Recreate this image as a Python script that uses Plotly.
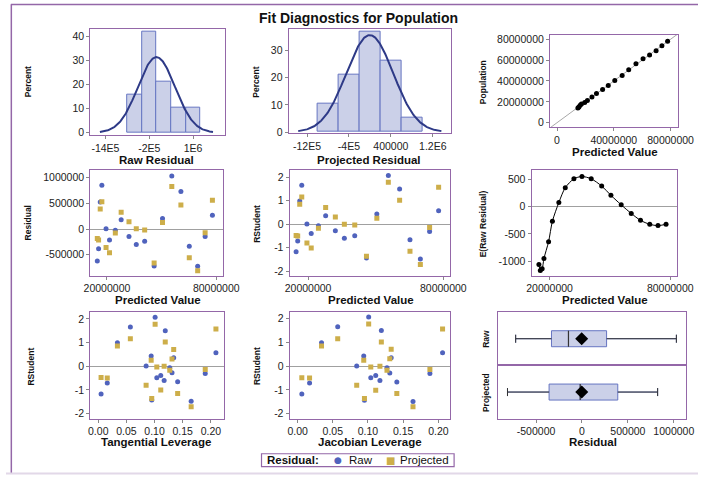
import numpy as np
import plotly.graph_objects as go

# ---------------- data ----------------
predicted = [14.7e6, 15.4e6, 16.3e6, 17.2e6, 19.5e6, 21.4e6, 24.6e6, 27.8e6, 32.1e6, 36.1e6,
             40.7e6, 45.9e6, 50.5e6, 55.6e6, 60.6e6, 65.2e6, 69.8e6, 73.9e6, 77.9e6]
raw_residual = [-619e3, -383e3, 524e3, 849e3, 5e3, -211e3, -26e3, 179e3, -147e3, -300e3,
                -236e3, -715e3, 204e3, 1028e3, 728e3, -332e3, -722e3, -147e3, 268e3]
projected_residual = [-185e3, -211e3, 390e3, 530e3, -358e3, -460e3, -77e3, 326e3, 140e3, 6e3,
                      -19e3, -658e3, 128e3, 824e3, 466e3, -556e3, -811e3, -70e3, 556e3]
rstudent_raw = [-1.17, -0.71, 0.99, 1.66, 0.01, -0.39, -0.06, 0.36, -0.28, -0.60,
                -0.49, -1.43, 0.43, 2.07, 1.50, -0.66, -1.48, -0.31, 0.57]
rstudent_projected = [-0.48, -0.50, 0.85, 1.16, -0.80, -1.01, -0.17, 0.71, 0.31, 0.00,
                      -0.03, -1.36, 0.25, 1.78, 1.02, -1.15, -1.71, -0.14, 1.57]
tangential_leverage = [0.005, 0.016, 0.034, 0.057, 0.085, 0.111, 0.127, 0.134, 0.131, 0.117,
                       0.104, 0.095, 0.094, 0.101, 0.119, 0.141, 0.165, 0.190, 0.209]
jacobian_leverage = [0.006, 0.017, 0.034, 0.057, 0.084, 0.111, 0.127, 0.133, 0.131, 0.117,
                     0.104, 0.095, 0.094, 0.101, 0.119, 0.141, 0.164, 0.188, 0.206]
expected_raw_residual = [-1056, -1164, -1134, -948, -642, -270, 72, 342, 504, 546,
                         504, 372, 204, 30, -126, -252, -324, -348, -324]
population = list(np.array(predicted) + np.array(raw_residual))

# histogram binning
raw_bin_start, raw_bin_end, bin_size = -800000, 1200000, 400000
proj_bin_start, proj_bin_end = -1000000, 1000000

# tick labels
raw_hist_tickvals = [-1.4e6, -2e5, 1e6]
raw_hist_ticktext = ["-14E5", "-2E5", "1E6"]
proj_hist_tickvals = [-1.2e6, -4e5, 4e5, 1.2e6]
proj_hist_ticktext = ["-12E5", "-4E5", "400000", "1.2E6"]
percent_ticks1 = [0, 10, 20, 30, 40]
percent_ticks2 = [0, 10, 20, 30]
pop_ticks = [0, 20000000, 40000000, 60000000, 80000000]
pred_ticks3 = [0, 40000000, 80000000]
pred_ticks = [20000000, 80000000]
resid_ticks = [-500000, 0, 500000, 1000000]
rstud_ticks = [-2, -1, 0, 1, 2]
exp_ticks = [-1000, -500, 0, 500]
lev_ticks = [0.00, 0.05, 0.10, 0.15, 0.20]
box_ticks = [-500000, 0, 500000, 1000000]
legend_title = "Residual:"
series_names = ["Raw", "Projected"]

# ---------------- style ----------------
W, H = 715, 479
FONT = "Liberation Sans, Arial, sans-serif"
PURPLE = "#9467A8"
BLUE = "#5063BD"
GOLD = "#CDAE4A"
HFILL = "#CBD0E8"
HLINE = "#6675C2"
CURVE = "#2E3A87"
TICKSIZE = 10.5
XTITLE = 11.5
YTITLE = 8.5


def px_x(x):
    return x / W


def px_y(y):
    return 1 - y / H


def dom_x(a, b):
    return [a / W, b / W]


def dom_y(top, bottom):
    return [1 - bottom / H, 1 - top / H]


def lab(vals, fmt=None):
    if fmt is None:
        return [str(int(v)) for v in vals]
    return [fmt.format(v) for v in vals]


def axis(domain, rng, anchor, tickvals=None, ticktext=None, **kw):
    d = dict(domain=domain, range=rng, anchor=anchor, showline=True, mirror=True,
             linecolor=PURPLE, linewidth=1, ticks="outside", ticklen=3, tickcolor="#888",
             tickfont=dict(size=TICKSIZE, family=FONT, color="#222"), showgrid=False,
             zeroline=False, fixedrange=True)
    if tickvals is not None:
        d["tickmode"] = "array"
        d["tickvals"] = tickvals
        d["ticktext"] = ticktext if ticktext is not None else lab(tickvals)
    d.update(kw)
    return d


fig = go.Figure()


def normal_curve(data, width):
    a = np.array(data, dtype=float)
    m, s = a.mean(), a.std(ddof=1)
    xs = np.linspace(m - 3.05 * s, m + 3.05 * s, 200)
    ys = 100 * width * np.exp(-0.5 * ((xs - m) / s) ** 2) / (s * np.sqrt(2 * np.pi))
    return xs, ys


# Panel 1: raw residual histogram
fig.add_trace(go.Histogram(x=raw_residual, histnorm="percent",
                           xbins=dict(start=raw_bin_start, end=raw_bin_end, size=bin_size),
                           marker=dict(color=HFILL, line=dict(color=HLINE, width=1)),
                           xaxis="x", yaxis="y"))
cx, cy = normal_curve(raw_residual, bin_size)
fig.add_trace(go.Scatter(x=cx, y=cy, mode="lines", line=dict(color=CURVE, width=2),
                         xaxis="x", yaxis="y"))

# Panel 2: projected residual histogram
fig.add_trace(go.Histogram(x=projected_residual, histnorm="percent",
                           xbins=dict(start=proj_bin_start, end=proj_bin_end, size=bin_size),
                           marker=dict(color=HFILL, line=dict(color=HLINE, width=1)),
                           xaxis="x2", yaxis="y2"))
cx, cy = normal_curve(projected_residual, bin_size)
fig.add_trace(go.Scatter(x=cx, y=cy, mode="lines", line=dict(color=CURVE, width=2),
                         xaxis="x2", yaxis="y2"))

# Panel 3: population vs predicted
p3x = [-5.0e6, 85.0e6]
p3y = [-4.5e6, 84.5e6]
diag = [min(p3x[0], p3y[0]), max(p3x[1], p3y[1])]
fig.add_trace(go.Scatter(x=diag, y=diag, mode="lines", line=dict(color="#A8A8A8", width=1),
                         xaxis="x3", yaxis="y3"))
fig.add_trace(go.Scatter(x=predicted, y=population, mode="markers",
                         marker=dict(color="black", size=5), xaxis="x3", yaxis="y3"))


def pair(xvals, yraw, yproj, xa, ya):
    fig.add_trace(go.Scatter(x=xvals, y=yraw, mode="markers", name=series_names[0],
                             marker=dict(color=BLUE, size=5, symbol="circle"),
                             xaxis=xa, yaxis=ya))
    fig.add_trace(go.Scatter(x=xvals, y=yproj, mode="markers", name=series_names[1],
                             marker=dict(color=GOLD, size=5, symbol="square"),
                             xaxis=xa, yaxis=ya))


pair(predicted, raw_residual, projected_residual, "x4", "y4")
pair(predicted, rstudent_raw, rstudent_projected, "x5", "y5")
pair(tangential_leverage, rstudent_raw, rstudent_projected, "x7", "y7")
pair(jacobian_leverage, rstudent_raw, rstudent_projected, "x8", "y8")

# Panel 6: E(raw residual)
fig.add_trace(go.Scatter(x=predicted, y=expected_raw_residual, mode="lines+markers",
                         line=dict(color="black", width=1, shape="spline", smoothing=0.8),
                         marker=dict(color="black", size=5), xaxis="x6", yaxis="y6"))


# Panel 9: box plots
def box(data, xa, ya):
    a = np.array(data, dtype=float)
    q1, med, q3 = np.percentile(a, [25, 50, 75], method="weibull")
    iqr = q3 - q1
    lo = a[a >= q1 - 1.5 * iqr].min()
    hi = a[a <= q3 + 1.5 * iqr].max()
    fig.add_trace(go.Box(x=data, y0=0, orientation="h", width=0.3, whiskerwidth=0.5,
                         quartilemethod="exclusive", boxpoints=False,
                         fillcolor=HFILL, line=dict(color=HLINE, width=1),
                         xaxis=xa, yaxis=ya, hoverinfo="skip"))
    fig.add_trace(go.Scatter(x=[lo, q1, None, q3, hi, None, lo, lo, None, hi, hi],
                             y=[0, 0, None, 0, 0, None, -0.075, 0.075, None, -0.075, 0.075],
                             mode="lines", line=dict(color="#333", width=1),
                             xaxis=xa, yaxis=ya, hoverinfo="skip"))
    fig.add_trace(go.Scatter(x=[med, med], y=[-0.15, 0.15], mode="lines",
                             line=dict(color="#333", width=1.2),
                             xaxis=xa, yaxis=ya, hoverinfo="skip"))
    fig.add_trace(go.Scatter(x=[a.mean()], y=[0], mode="markers",
                             marker=dict(symbol="diamond", color="black", size=10),
                             xaxis=xa, yaxis=ya, hoverinfo="skip"))


box(raw_residual, "x9", "y9")
box(projected_residual, "x10", "y10")

# ---------------- layout ----------------
lay = dict(
    width=W, height=H, margin=dict(l=0, r=0, t=0, b=0, pad=0),
    paper_bgcolor="white", plot_bgcolor="white", bargap=0,
    font=dict(family=FONT, size=10, color="#222"),
    showlegend=False,
)
zl = dict(zeroline=True, zerolinecolor="#A0A0A0", zerolinewidth=1)
lay["xaxis"] = axis(dom_x(87, 226), [-1.816e6, 1.866e6], "y", raw_hist_tickvals, raw_hist_ticktext)
lay["yaxis"] = axis(dom_y(27, 135), [-1.1, 43.3], "x", percent_ticks1)
lay["xaxis2"] = axis(dom_x(292, 460), [-1.551e6, 1.551e6], "y2", proj_hist_tickvals, proj_hist_ticktext)
lay["yaxis2"] = axis(dom_y(27, 133), [-0.47, 38.0], "x2", percent_ticks2)
lay["xaxis3"] = axis(dom_x(562, 694), p3x, "y3", pred_ticks3)
lay["yaxis3"] = axis(dom_y(33, 127), p3y, "x3", pop_ticks)
lay["xaxis4"] = axis(dom_x(87, 224), [10.8e6, 83.6e6], "y4", pred_ticks)
lay["yaxis4"] = axis(dom_y(170, 277), [-902e3, 1147e3], "x4", resid_ticks, **zl)
lay["xaxis5"] = axis(dom_x(293, 459), [11.8e6, 83.05e6], "y5", pred_ticks)
lay["yaxis5"] = axis(dom_y(170, 277), [-2.18, 2.31], "x5", rstud_ticks, **zl)
lay["xaxis6"] = axis(dom_x(543, 693), [11.03e6, 83.2e6], "y6", pred_ticks)
lay["yaxis6"] = axis(dom_y(170, 277), [-1257, 667], "x6", exp_ticks, **zl)
lay["xaxis7"] = axis(dom_x(87, 225), [-0.0143, 0.2229], "y7", lev_ticks, lab(lev_ticks, "{:.2f}"))
lay["yaxis7"] = axis(dom_y(314, 422), [-2.22, 2.29], "x7", rstud_ticks, **zl)
lay["xaxis8"] = axis(dom_x(293, 459), [-0.0114, 0.2169], "y8", lev_ticks, lab(lev_ticks, "{:.2f}"))
lay["yaxis8"] = axis(dom_y(314, 422), [-2.21, 2.28], "x8", rstud_ticks, **zl)
lay["xaxis9"] = axis(dom_x(508, 703), [-918e3, 1137e3], "y9", box_ticks,
                     showticklabels=False, ticks="")
lay["yaxis9"] = axis(dom_y(314, 368), [-0.5, 0.5], "x9", None, None,
                     showticklabels=False, ticks="")
lay["xaxis10"] = axis(dom_x(508, 703), [-918e3, 1137e3], "y10", box_ticks)
lay["yaxis10"] = axis(dom_y(368, 422), [-0.5, 0.5], "x10", None, None,
                      showticklabels=False, ticks="")

ann = []


def text(t, x, y, size=XTITLE, angle=0, bold=True, color="#111", family=FONT):
    ann.append(dict(text=("<b>%s</b>" % t) if bold else t, x=px_x(x), y=px_y(y),
                    xref="paper", yref="paper", xanchor="center", yanchor="middle",
                    showarrow=False, textangle=angle,
                    font=dict(size=size, family=family, color=color)))


text("Fit Diagnostics for Population", 364, 16, size=14)
# y titles
text("Percent", 23, 81, YTITLE, -90)
text("Percent", 258, 81, YTITLE, -90)
text("Population", 493, 81, YTITLE, -90)
text("Residual", 23, 224, YTITLE, -90)
text("RStudent", 260, 225, YTITLE, -90)
text("E(Raw Residual)", 493, 225, YTITLE, -90)
text("RStudent", 26, 369, YTITLE, -90)
text("RStudent", 260, 369, YTITLE, -90)
text(series_names[0], 496, 341, YTITLE, -90)
text(series_names[1], 496, 396, YTITLE, -90)
# x titles
text("Raw Residual", 155, 159.5)
text("Projected Residual", 375, 159.5)
text("Predicted Value", 629, 152)
text("Predicted Value", 157, 301.5)
text("Predicted Value", 377, 301.5)
text("Predicted Value", 619, 301.5)
text("Tangential Leverage", 155, 446)
text("Jacobian Leverage", 376, 446)
text("Residual", 607, 446)
# custom legend
text(legend_title, 297, 464, 11.5)
text("\u25CF", 343, 464, 9, color=BLUE, bold=False, family="DejaVu Sans")
text(series_names[0], 366.5, 464, 11.5, bold=False)
text("\u25A0", 397, 464, 10, color=GOLD, bold=False, family="DejaVu Sans")
text(series_names[1], 432, 464, 11.5, bold=False)
lay["annotations"] = ann

lay["shapes"] = [
    dict(type="line", xref="paper", yref="paper", x0=px_x(5), x1=1.0, y0=px_y(2.5), y1=px_y(2.5),
         line=dict(color=PURPLE, width=1.5)),
    dict(type="line", xref="paper", yref="paper", x0=px_x(5.5), x1=px_x(5.5), y0=px_y(2.5), y1=px_y(477),
         line=dict(color=PURPLE, width=1.5)),
    dict(type="line", xref="paper", yref="paper", x0=0, x1=1.0, y0=px_y(477.5), y1=px_y(477.5),
         line=dict(color="#E2D8E8", width=2)),
    dict(type="rect", xref="paper", yref="paper", x0=px_x(264), x1=px_x(463),
         y0=px_y(470.5), y1=px_y(457.5), line=dict(color=PURPLE, width=1.2), fillcolor="white",
         layer="below"),
]

fig.update_layout(**lay)

fig.write_html("out.html", config={"displayModeBar": False},
               post_script="document.body.style.margin='0px';document.body.style.overflow='hidden';")
